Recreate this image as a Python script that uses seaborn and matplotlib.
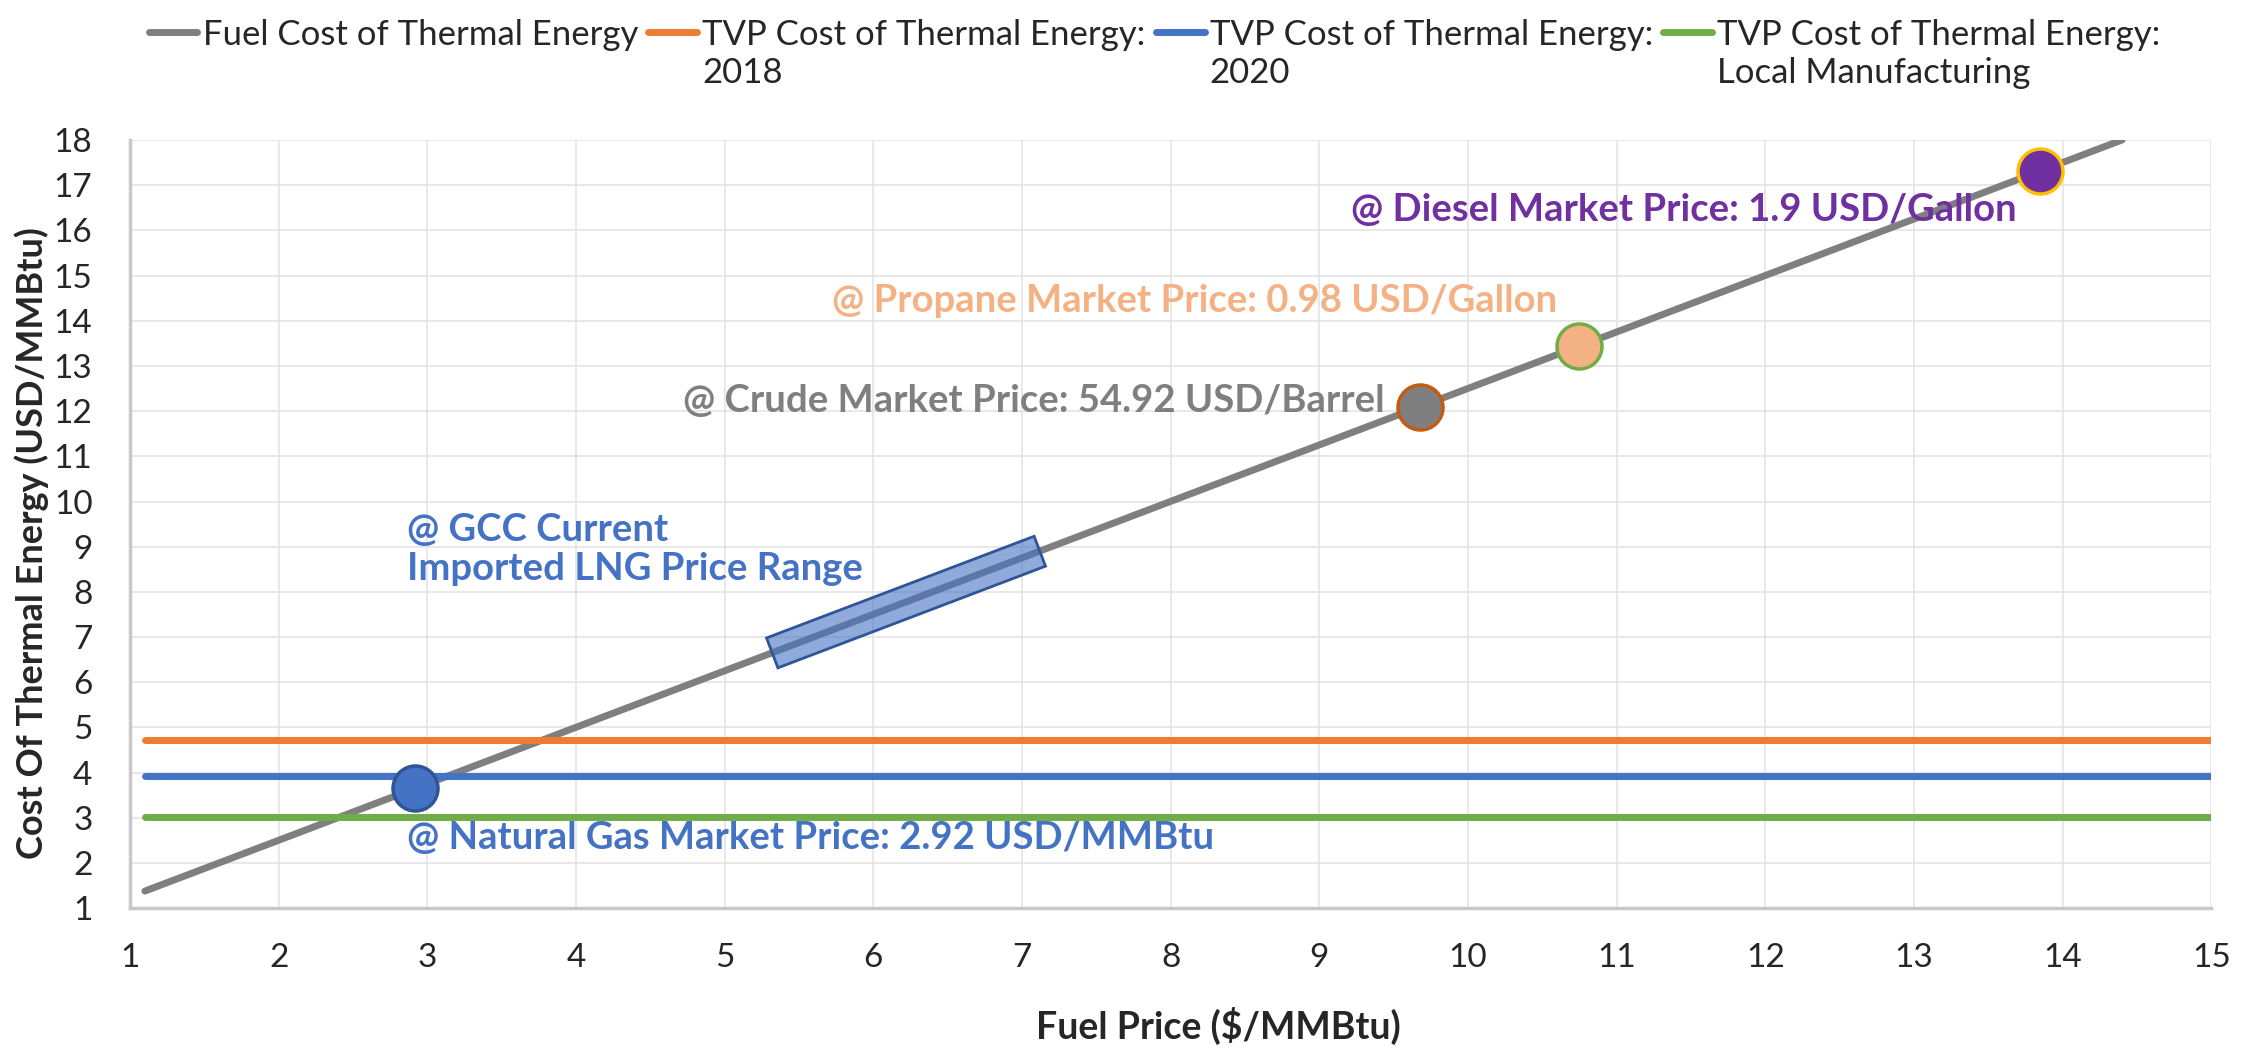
import numpy as np
import pandas as pd
import matplotlib.pyplot as plt
import matplotlib.patheffects as pe
from matplotlib.patches import Polygon
import seaborn as sns

# values
fuel_price = [1.1, 14.4]
fuel_cost = [1.38, 18.0]

tvp_price = [1.1, 15.0]
tvp_2018 = 4.72
tvp_2020 = 3.92
tvp_local = 3.02

mk_price = [2.92, 9.68, 10.75, 13.85]
mk_cost = [3.65, 12.1, 13.44, 17.31]
mk_fill = ['#4472C4', '#7F7F7F', '#F4B183', '#7030A0']
mk_edge = ['#2F5597', '#C55A11', '#70AD47', '#FFC000']

lng_price = [5.32, 7.12]
lng_cost = [6.65, 8.9]

legend_first = ['Fuel Cost of Thermal Energy', 'TVP Cost of Thermal Energy:',
                'TVP Cost of Thermal Energy:', 'TVP Cost of Thermal Energy:']
legend_second = ['', '2018', '2020', 'Local Manufacturing']

sns.set_style('white')
plt.rcParams['font.family'] = ['Lato', 'DejaVu Sans']

fig, ax = plt.subplots(figsize=(22.61, 10.5), dpi=100)
fig.subplots_adjust(left=0.0575, right=0.978, bottom=0.135, top=0.8667)

shadow = [pe.SimpleLineShadow(offset=(3, -4), alpha=0.25, shadow_color='#555555'), pe.Normal()]

sns.lineplot(x=fuel_price, y=fuel_cost, color='#7F7F7F', lw=5, solid_capstyle='round',
             label=legend_first[0], ax=ax, path_effects=shadow, zorder=3)
sns.lineplot(x=tvp_price, y=[tvp_2018] * 2, color='#ED7D31', lw=5, solid_capstyle='round',
             label=legend_first[1] + ' ', ax=ax, path_effects=shadow, zorder=3)
sns.lineplot(x=tvp_price, y=[tvp_2020] * 2, color='#4472C4', lw=5, solid_capstyle='round',
             label=legend_first[2] + '  ', ax=ax, path_effects=shadow, zorder=3)
sns.lineplot(x=tvp_price, y=[tvp_local] * 2, color='#70AD47', lw=5, solid_capstyle='round',
             label=legend_first[3] + '   ', ax=ax, path_effects=shadow, zorder=3)

for px, py, fc, ec in zip(mk_price, mk_cost, mk_fill, mk_edge):
    sns.scatterplot(x=[px], y=[py], color=fc, edgecolor=ec, s=1050, linewidth=2.5,
                    ax=ax, zorder=6, legend=False)

ax.set_xlim(1, 15)
ax.set_ylim(1, 18)

# LNG price range box drawn along the fuel line
p0 = ax.transData.transform((lng_price[0], lng_cost[0]))
p1 = ax.transData.transform((lng_price[1], lng_cost[1]))
d = (p1 - p0) / np.hypot(*(p1 - p0))
n = np.array([-d[1], d[0]]) * 16
corners = np.array([p0 + n, p1 + n, p1 - n, p0 - n])
corners = ax.transData.inverted().transform(corners)
ax.add_patch(Polygon(corners, closed=True, facecolor='#4472C4', alpha=0.6,
                     edgecolor='none', zorder=4))
ax.add_patch(Polygon(corners, closed=True, facecolor='none', edgecolor='#2F5597',
                     lw=2, zorder=4))

# annotations
fs = 27.5
ax.text(13.69, 16.44, '@ Diesel Market Price: 1.9 USD/Gallon', color='#7030A0',
        fontsize=fs, fontweight='bold', ha='right', va='center', zorder=7)
ax.text(10.6, 14.43, '@ Propane Market Price: 0.98 USD/Gallon', color='#F4B183',
        fontsize=fs, fontweight='bold', ha='right', va='center', zorder=7)
ax.text(9.44, 12.23, '@ Crude Market Price: 54.92 USD/Barrel', color='#7F7F7F',
        fontsize=fs, fontweight='bold', ha='right', va='center', zorder=7)
ax.text(2.86, 8.94, '@ GCC Current\nImported LNG Price Range', color='#4472C4',
        fontsize=fs, fontweight='bold', ha='left', va='center', linespacing=1.2, zorder=7)
ax.text(2.86, 2.56, '@ Natural Gas Market Price: 2.92 USD/MMBtu', color='#4472C4',
        fontsize=fs, fontweight='bold', ha='left', va='center', zorder=7)

# axes styling
ax.set_xticks(range(1, 16))
ax.set_xticks(np.arange(1.5, 15, 1), minor=True)
ax.set_yticks(range(1, 19))
ax.grid(True, color='#E4E4E4', lw=1.2, zorder=0)
ax.set_axisbelow(True)
for s in ['top', 'right']:
    ax.spines[s].set_visible(False)
for s in ['left', 'bottom']:
    ax.spines[s].set_color('#C8C8C8')
    ax.spines[s].set_linewidth(2.5)
ax.tick_params(axis='x', which='both', direction='inout', length=14, width=1.5,
               color='#C8C8C8', labelsize=24, pad=18)
ax.tick_params(axis='y', which='major', direction='inout', length=14, width=1.5,
               color='#C8C8C8', labelsize=24, pad=20)

ax.set_xlabel('Fuel Price ($/MMBtu)', fontsize=27, fontweight='bold')
ax.set_ylabel('Cost Of Thermal Energy (USD/MMBtu)', fontsize=26, fontweight='bold')
ax.xaxis.set_label_coords(0.523, -0.128)
ax.yaxis.set_label_coords(-0.039, 0.475)

handles, labels = ax.get_legend_handles_labels()
ax.get_legend().remove()
for h in handles:
    h.set_path_effects([])
leg = fig.legend(handles, legend_first, loc='upper left', bbox_to_anchor=(0.052, 1.012),
                 ncol=4, frameon=False, fontsize=25, handlelength=1.4, handletextpad=0.15,
                 columnspacing=0.3)

# second line of each legend label, placed under the first line
fig.canvas.draw()
renderer = fig.canvas.get_renderer()
inv = fig.transFigure.inverted()
for t, extra in zip(leg.get_texts(), legend_second):
    if not extra:
        continue
    bb = t.get_window_extent(renderer)
    x0, y0 = inv.transform((bb.x0, bb.y0))
    fig.text(x0, y0 - 0.006, extra, fontsize=25, ha='left', va='top')

fig.savefig('out.png', dpi=100)
